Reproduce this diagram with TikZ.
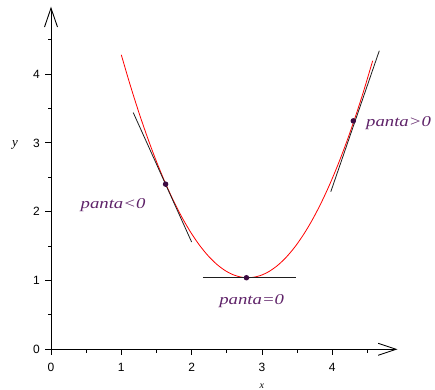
\documentclass[tikz,border=0pt]{standalone}
\usepackage{fontspec}
\setmainfont{Liberation Serif}
\newfontfamily\lblfont{Liberation Serif}[FakeStretch=1.25]
\newfontfamily\tickfont{Liberation Sans}
\usetikzlibrary{arrows.meta}
\definecolor{lblc}{RGB}{95,35,105}
\definecolor{dotc}{RGB}{60,10,65}
\definecolor{tanc}{RGB}{30,30,30}
\begin{document}
\begin{tikzpicture}[x=70.3pt,y=68.8pt,
  axisline/.style={line width=0.9pt,black},
  tick/.style={line width=0.8pt,black},
  ticklbl/.style={font=\tickfont\fontsize{12}{12}\selectfont,inner sep=0pt},
  curve/.style={red,line width=0.8pt},
  tanline/.style={tanc,line width=0.8pt},
  dot/.style={circle,fill=dotc,inner sep=0pt,minimum size=5.5pt},
  lbl/.style={font=\lblfont\itshape\fontsize{15}{15}\selectfont,text=lblc,inner sep=0pt}]
\useasboundingbox (-0.7255,-0.5916) rectangle (5.4623,5.0770);
% axes
\draw[axisline,-{Straight Barb[length=18pt,width=12pt,line width=0.9pt]}] (0,0) -- (4.93,0);
\draw[axisline,-{Straight Barb[length=19pt,width=13pt,line width=0.9pt]}] (0,0) -- (0,4.98);
% ticks
\foreach \i in {0,...,4}{
  \draw[tick] (\i,0) -- ++(0pt,-6pt);
  \node[ticklbl] at ([yshift=-18pt]\i,0) {\i};
  \draw[tick] (0,\i) -- ++(-6pt,0pt);
  \node[ticklbl,anchor=east] at ([xshift=-11pt]0,\i) {\i};
}
\foreach \i in {0.5,1.5,2.5,3.5,4.5}{
  \draw[tick] (\i,0) -- ++(0pt,-3.5pt);
  \draw[tick] (0,\i) -- ++(-3.5pt,0pt);
}
\node[font=\itshape\fontsize{13}{13}\selectfont] (ylab) at (-0.512,2.97) {y};
\node[font=\itshape\fontsize{10}{10}\selectfont] (xlab) at (3.0,-0.532) {x};
% curve
\draw[curve] plot[domain=1:4.576,samples=30,smooth] (\x,{(\x-2.8)^2+1.04});
% tangent lines
\coordinate (l1) at (1.17,3.44);
\coordinate (l2) at (2.0,1.56);
\coordinate (r1) at (3.98,2.29);
\coordinate (r2) at (4.67,4.34);
\coordinate (m1) at (2.16,1.04);
\coordinate (m2) at (3.48,1.04);
\draw[tanline] (l1) -- (l2);
\draw[tanline] (r1) -- (r2);
\draw[tanline] (m1) -- (m2);
% points
\node[dot] (pl) at (1.63,2.40) {};
\node[dot] (pr) at (4.30,3.32) {};
\node[dot] (pm) at (2.78,1.04) {};
% labels
\node[lbl] (neg) at (0.882,2.097) {panta<0};
\node[lbl,anchor=west] (pos) at (4.48,3.289) {panta>0};
\node[lbl] (zer) at (2.855,0.702) {panta=0};
\end{tikzpicture}
\end{document}
